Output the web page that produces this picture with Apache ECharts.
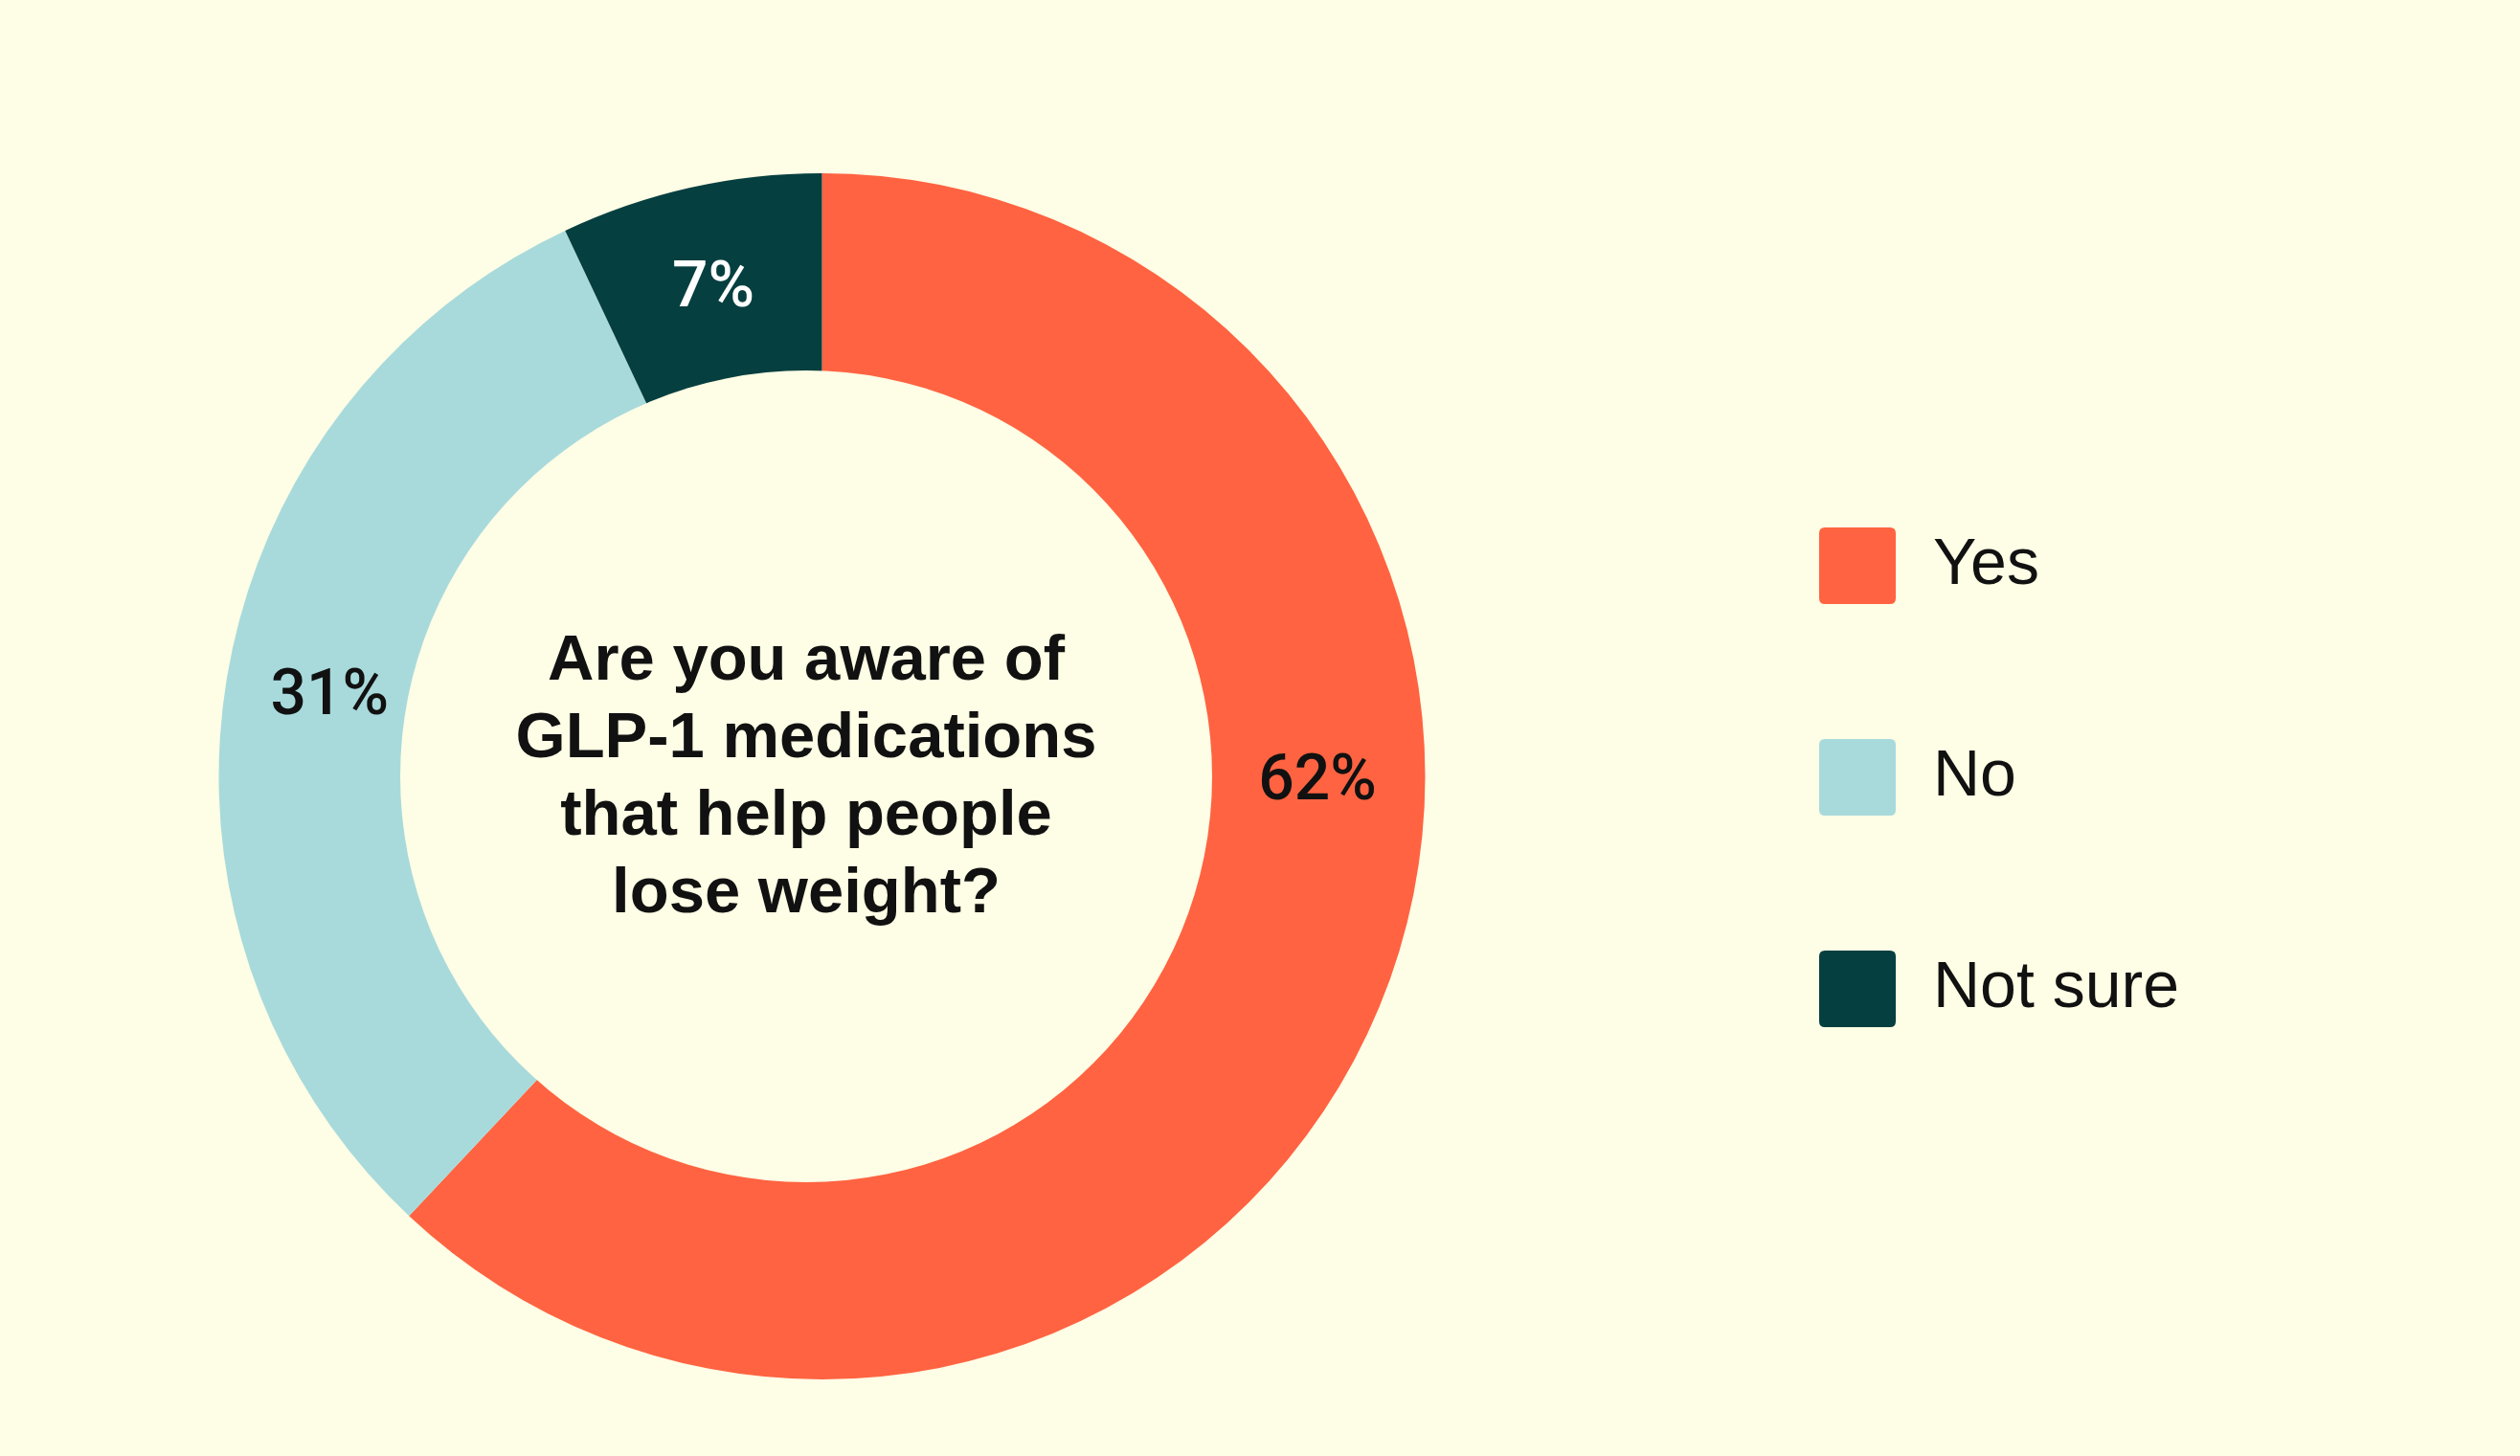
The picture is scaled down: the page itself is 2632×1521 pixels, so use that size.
<!DOCTYPE html>
<html>
<head>
<meta charset="utf-8">
<script src="https://cdn.jsdelivr.net/npm/echarts@6/dist/echarts.min.js"></script>
<style>
  html, body { margin: 0; padding: 0; background: #FEFDE5; }
  #chart { width: 2632px; height: 1521px; }
</style>
</head>
<body>
<div id="chart"></div>
<script>
// survey answers
const answers = ['Yes', 'No', 'Not sure'];
const shares = [62, 31, 7];
const colors = ['#FF6341', '#A8DADC', '#063F40'];
const labelColors = ['#111111', '#111111', '#FFFFFF'];
const question = 'Are you aware of\nGLP-1 medications\nthat help people\nlose weight?';

const bg = '#FEFDE5';
const font = '"Liberation Sans", Arial, sans-serif';
const cx = 858.5, cy = 811, rIn = 405, rOut = 630;

const chart = echarts.init(document.getElementById('chart'));

const option = {
  backgroundColor: bg,
  animation: false,
  legend: {
    orient: 'vertical',
    left: 1895,
    top: 546,
    itemWidth: 80,
    itemHeight: 80,
    itemGap: 141,
    icon: 'path://M6,0H74Q80,0 80,6V74Q80,80 74,80H6Q0,80 0,74V6Q0,0 6,0Z',
    selectedMode: false,
    textStyle: {
      fontFamily: font,
      fontSize: 68,
      color: '#111111',
      padding: [0, 0, 14, 34]
    },
    data: answers
  },
  graphic: [
    {
      type: 'circle',
      z: 100,
      shape: { cx: 842, cy: 811, r: 424 },
      style: { fill: bg },
      silent: true
    },
    {
      type: 'text',
      z: 101,
      x: 842,
      y: 813,
      silent: true,
      style: {
        text: question,
        fill: '#111111',
        font: 'bold 67px ' + font,
        lineHeight: 81,
        align: 'center',
        verticalAlign: 'middle'
      }
    }
  ],
  series: [{
    type: 'pie',
    center: [cx, cy],
    radius: [rIn, rOut],
    startAngle: 90,
    clockwise: true,
    avoidLabelOverlap: false,
    emphasis: { disabled: true },
    label: {
      show: true,
      position: 'inside',
      formatter: '{c}%',
      fontFamily: 'Roboto, ' + font,
      fontSize: 66,
      fontWeight: 500
    },
    labelLine: { show: false },
    // the big slice's label sits at 3 o'clock on the ring
    labelLayout: function (params) {
      if (params.dataIndex === 0) {
        return { x: cx + (rIn + rOut) / 2, y: cy + 7 };
      }
      return {};
    },
    data: answers.map((name, i) => ({
      name: name,
      value: shares[i],
      itemStyle: { color: colors[i] },
      label: { color: labelColors[i] }
    }))
  }]
};

chart.setOption(option);
</script>
</body>
</html>
